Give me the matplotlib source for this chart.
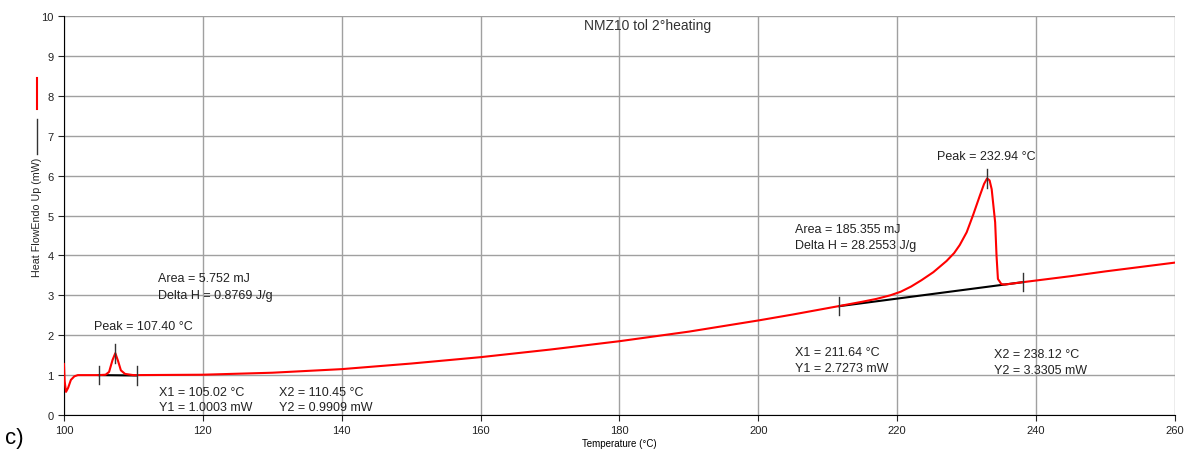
import matplotlib.pyplot as plt
from matplotlib.lines import Line2D

plt.rcParams['font.family'] = ['Liberation Sans', 'DejaVu Sans']

# heat flow trace (temperature in C, heat flow in mW)
temp = [100.0, 100.1, 100.3, 100.6, 101.0, 101.5, 102.0, 105.0, 106.0, 106.5,
        107.0, 107.4, 107.8, 108.2, 108.8, 110.0, 120.0, 130.0, 140.0, 150.0,
        160.0, 170.0, 180.0, 190.0, 200.0, 205.0, 211.6, 215.0, 217.0, 219.0,
        220.5, 222.0, 223.5, 225.2, 227.1, 228.2, 229.0, 230.0, 230.9, 231.9,
        232.5, 232.94, 233.3, 233.6, 234.1, 234.3, 234.5, 235.0, 235.5, 238.12,
        245.0, 250.0, 255.0, 260.0]
heat_flow = [1.28, 0.85, 0.58, 0.68, 0.88, 0.97, 1.00, 1.00, 1.01, 1.08,
             1.38, 1.55, 1.35, 1.12, 1.03, 1.00, 1.01, 1.06, 1.15, 1.29,
             1.45, 1.64, 1.85, 2.09, 2.37, 2.52, 2.73, 2.84, 2.91, 3.00,
             3.09, 3.22, 3.38, 3.58, 3.86, 4.06, 4.26, 4.58, 5.00, 5.50,
             5.79, 5.93, 5.88, 5.66, 4.83, 3.99, 3.41, 3.28, 3.27, 3.33,
             3.48, 3.60, 3.71, 3.82]

# peak integration limits and results
peak1_x = [105.02, 110.45]
peak1_y = [1.0003, 0.9909]
peak1_top = (107.40, 1.55)
peak2_x = [211.64, 238.12]
peak2_y = [2.7273, 3.3305]
peak2_top = (232.94, 5.93)

fig = plt.figure(figsize=(11.84, 4.52), dpi=100)
ax = fig.add_axes([0.054, 0.0796, 0.9384, 0.8828])

ax.plot(temp, heat_flow, color='#ff0000', lw=1.5, zorder=3)

# baselines
ax.plot(peak1_x, peak1_y, color='black', lw=1.5, zorder=2)
ax.plot(peak2_x, peak2_y, color='black', lw=1.5, zorder=2)

# limit and peak markers
for x, y in zip(peak1_x + peak2_x, peak1_y + peak2_y):
    ax.plot([x, x], [y - 0.23, y + 0.23], color='#333333', lw=1, zorder=4)
for x, y in [peak1_top, peak2_top]:
    ax.plot([x, x], [y - 0.25, y + 0.23], color='#333333', lw=1, zorder=4)

txt = dict(fontsize=9, color='#222222', va='center', ha='left')
ax.text(104.36, 2.24, 'Peak = 107.40 °C', **txt)
ax.text(113.5, 3.43, 'Area = 5.752 mJ', **txt)
ax.text(113.5, 3.01, 'Delta H = 0.8769 J/g', **txt)
ax.text(113.7, 0.58, 'X1 = 105.02 °C', **txt)
ax.text(113.7, 0.20, 'Y1 = 1.0003 mW', **txt)
ax.text(130.9, 0.58, 'X2 = 110.45 °C', **txt)
ax.text(130.9, 0.20, 'Y2 = 0.9909 mW', **txt)
ax.text(225.66, 6.48, 'Peak = 232.94 °C', **txt)
ax.text(205.26, 4.66, 'Area = 185.355 mJ', **txt)
ax.text(205.26, 4.26, 'Delta H = 28.2553 J/g', **txt)
ax.text(205.26, 1.57, 'X1 = 211.64 °C', **txt)
ax.text(205.26, 1.17, 'Y1 = 2.7273 mW', **txt)
ax.text(233.95, 1.53, 'X2 = 238.12 °C', **txt)
ax.text(233.95, 1.14, 'Y2 = 3.3305 mW', **txt)
ax.text(184.1, 9.77, 'NMZ10 tol 2°heating', fontsize=10, color='#333333',
        ha='center', va='center')

ax.set_xlim(100, 260)
ax.set_ylim(0, 10)
ax.set_xticks(range(100, 261, 20))
ax.set_yticks(range(0, 11))
ax.grid(True, color='#a0a0a0', lw=1)
ax.set_axisbelow(True)
ax.tick_params(labelsize=8, length=4, direction='out', colors='#222222')
for side in ['top', 'right']:
    ax.spines[side].set_visible(False)
for side in ['left', 'bottom']:
    ax.spines[side].set_color('black')
ax.set_xlabel('Temperature (°C)', fontsize=7, labelpad=2)

# y label with its series key
fig.text(0.031, 0.519, 'Heat FlowEndo Up (mW)', rotation=90, fontsize=7.7,
         ha='center', va='center', color='#222222')
fig.add_artist(Line2D([0.031, 0.031], [0.657, 0.734], color='#333333', lw=1))
fig.add_artist(Line2D([0.031, 0.031], [0.757, 0.825], color='#ff0000', lw=1.5))

fig.text(0.004, 0.03, 'c)', fontsize=16, ha='left', va='center')

fig.savefig('out.png', dpi=100)
